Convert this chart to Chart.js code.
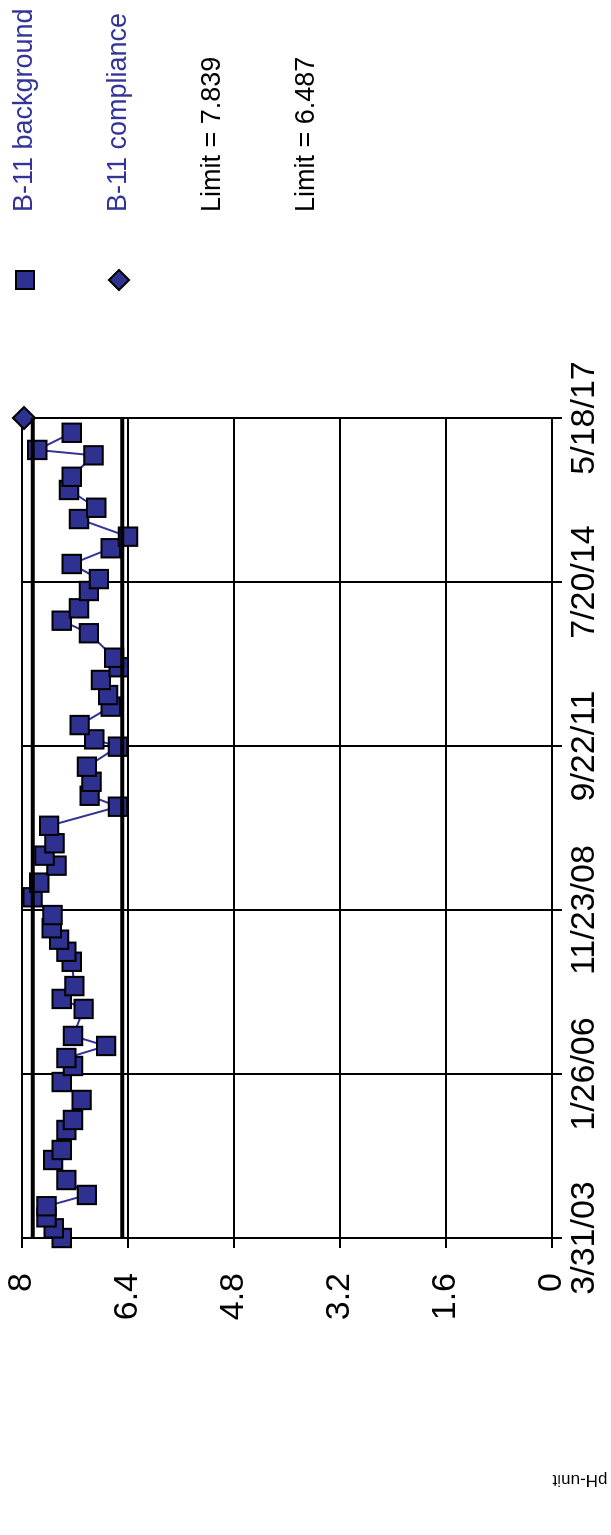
<!DOCTYPE html>
<html>
<head>
<meta charset="utf-8">
<script src="https://cdn.jsdelivr.net/npm/chart.js@4/dist/chart.umd.min.js"></script>
<style>
  html, body { margin: 0; padding: 0; background: #fff; overflow: hidden; width: 611px; height: 1535px; }
  /* chart is laid out landscape and turned a quarter turn to the left */
  #wrap { position: absolute; left: 0; top: 1535px; width: 1535px; height: 611px;
          transform-origin: 0 0; transform: rotate(-90deg); }
</style>
</head>
<body>
<div id="wrap"><canvas id="chart" width="1535" height="611"></canvas></div>
<script>
// sample dates and pH
const bgDates = ['2003-03-31','2003-05-31','2003-08-08','2003-10-17','2003-12-27','2004-03-30','2004-08-03','2004-10-05',
  '2005-02-08','2005-04-12','2005-08-16','2005-12-07','2006-03-18','2006-05-07','2006-07-22','2006-09-23','2007-03-12',
  '2007-05-14','2007-08-03','2008-01-03','2008-03-06','2008-05-21','2008-08-01','2008-10-23','2009-02-12','2009-05-15',
  '2009-08-30','2009-11-01','2010-01-18','2010-05-08','2010-09-05','2010-11-13','2011-02-09','2011-05-15','2011-09-18',
  '2011-11-03','2012-02-01','2012-05-27','2012-08-08','2012-11-11','2013-01-30','2013-03-31','2013-09-01','2013-11-19',
  '2014-02-05','2014-05-25','2014-08-08','2014-11-11','2015-02-18','2015-05-02','2015-08-21','2015-10-31','2016-02-20',
  '2016-05-13','2016-09-25','2016-10-29','2017-02-14']
const bgValues = [7.40,7.52,7.63,7.63,7.02,7.33,7.53,7.40,7.33,7.23,7.10,7.40,7.23,7.33,6.73,7.23,7.07,7.40,7.21,7.25,
  7.33,7.44,7.55,7.54,7.84,7.74,7.48,7.66,7.51,7.59,6.55,6.98,6.95,7.02,6.55,6.91,7.13,6.66,6.70,6.81,6.54,6.61,6.99,
  7.40,7.14,6.99,6.84,7.25,6.66,6.40,7.14,6.88,7.29,7.25,6.92,7.77,7.25]
const compDates = ['2017-05-18']
const compValues = [7.97]
const limitValues = [7.839, 6.487]
const xTickLabels = ['3/31/03','1/26/06','11/23/08','9/22/11','7/20/14','5/18/17']
const yTicks = [0, 1.6, 3.2, 4.8, 6.4, 8]

const NAVY = '#333399'
const FILL = '#2e3190'
const FONT = '"Liberation Sans", Arial, sans-serif'

const base = Date.UTC(2003, 2, 31)
const dayNum = s => {
  const [y, m, d] = s.split('-').map(Number)
  return Math.round((Date.UTC(y, m - 1, d) - base) / 86400000)
}
const labelDay = s => {
  const [m, d, y] = s.split('/').map(Number)
  return Math.round((Date.UTC(2000 + y, m - 1, d) - base) / 86400000)
}
const xTickDays = xTickLabels.map(labelDay)
const xMin = xTickDays[0]
const xMax = xTickDays[xTickDays.length - 1]

const toPoints = (dates, values) => dates.map((d, i) => ({ x: dayNum(d), y: values[i] }))

const datasets = [
  {
    label: 'B-11 background', data: toPoints(bgDates, bgValues), showLine: true,
    borderColor: NAVY, borderWidth: 2, pointStyle: 'rect', pointRadius: 13,
    pointBackgroundColor: FILL, pointBorderColor: '#000', pointBorderWidth: 2, clip: false, order: 3
  },
  {
    label: 'B-11 compliance', data: toPoints(compDates, compValues), showLine: false,
    pointStyle: 'rectRot', pointRadius: 11, pointBackgroundColor: FILL, pointBorderColor: '#000',
    pointBorderWidth: 2, clip: false, order: 2
  }
]
limitValues.forEach(v => {
  datasets.push({
    label: 'Limit = ' + v, data: [{ x: xMin, y: v }, { x: xMax, y: v }], showLine: true,
    borderColor: '#000', borderWidth: 4, pointRadius: 0, clip: false, order: 1
  })
})

// legend on the right plus the small axis title, drawn by hand
const sideLegend = {
  id: 'sideLegend',
  afterDraw(chart) {
    const ctx = chart.ctx
    ctx.save()
    ctx.font = '27px ' + FONT
    ctx.textBaseline = 'middle'
    ctx.textAlign = 'left'
    chart.data.datasets.forEach((ds, i) => {
      const y = 25 + i * 94
      const isSeries = ds.pointRadius > 0
      if (isSeries) {
        ctx.fillStyle = ds.pointBackgroundColor
        ctx.strokeStyle = '#000'
        ctx.lineWidth = 2
        ctx.beginPath()
        if (ds.pointStyle === 'rect') {
          ctx.rect(1255 - 9, y - 9, 18, 18)
        } else {
          ctx.moveTo(1255 - 10, y); ctx.lineTo(1255, y - 10)
          ctx.lineTo(1255 + 10, y); ctx.lineTo(1255, y + 10)
          ctx.closePath()
        }
        ctx.fill()
        ctx.stroke()
      }
      ctx.fillStyle = isSeries ? NAVY : '#000'
      ctx.fillText(ds.label, 1323, y)
    })
    ctx.translate(55, 580)
    ctx.rotate(-Math.PI / 2)
    ctx.font = '17px ' + FONT
    ctx.fillStyle = '#000'
    ctx.textAlign = 'center'
    ctx.fillText('pH-unit', 0, 0)
    ctx.restore()
  }
}

new Chart(document.getElementById('chart').getContext('2d'), {
  type: 'scatter',
  data: { datasets },
  options: {
    responsive: false,
    animation: false,
    devicePixelRatio: 1,
    layout: { padding: { left: 0, right: 418, top: 0, bottom: 0 } },
    plugins: { legend: { display: false }, tooltip: { enabled: false } },
    scales: {
      x: {
        type: 'linear', min: xMin, max: xMax,
        afterBuildTicks: scale => { scale.ticks = xTickDays.map(v => ({ value: v })) },
        afterFit: scale => { scale.height = 59 },
        grid: { color: '#000', lineWidth: 2, tickLength: 10 },
        border: { color: '#000', width: 2 },
        ticks: {
          autoSkip: false, maxRotation: 0, padding: 2, color: '#000',
          font: { family: FONT, size: 34 },
          callback: (v, i) => xTickLabels[i]
        }
      },
      y: {
        min: 0, max: 8,
        afterBuildTicks: scale => { scale.ticks = yTicks.map(v => ({ value: v })) },
        afterFit: scale => {
          scale.width = 297
          scale.paddingTop = 22
          scale.paddingBottom = 0
        },
        grid: { color: '#000', lineWidth: 2, tickLength: 10 },
        border: { color: '#000', width: 2 },
        ticks: {
          padding: 25, color: '#000',
          font: { family: FONT, size: 34 },
          callback: v => String(v)
        }
      }
    }
  },
  plugins: [sideLegend]
})
</script>
</body>
</html>
